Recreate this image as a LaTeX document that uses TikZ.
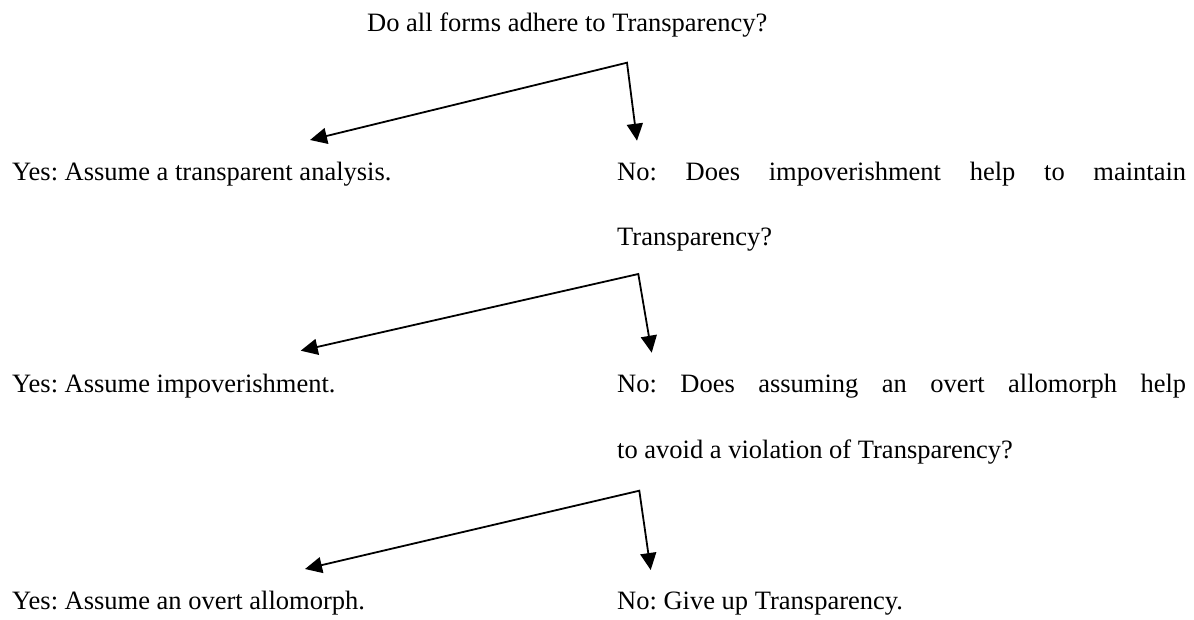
\documentclass[tikz,border=0pt]{standalone}
\usepackage{fontspec}
\setmainfont{Liberation Serif}
\usetikzlibrary{arrows.meta}
\tikzset{
  txt/.style={font=\fontsize{26.5pt}{32pt}\selectfont\frenchspacing, inner sep=0pt, anchor=base west},
  branch/.style={line width=1.8pt, {Triangle[length=17pt,width=16pt]}-{Triangle[length=17pt,width=16pt]}}
}
\begin{document}
\begin{tikzpicture}[x=1pt,y=-1pt]
\useasboundingbox (0,0) rectangle (1194,619);
% texts
\node[txt] (q1) at (367,31) {Do all forms adhere to Transparency?};
\node[txt] (y1) at (12,180) {Yes: Assume a transparent analysis.};
\node[txt] (q2a) at (617,180) {\makebox[569pt][s]{No: Does impoverishment help to maintain}};
\node[txt] (q2b) at (617,245) {Transparency?};
\node[txt] (y2) at (12,392) {Yes: Assume impoverishment.};
\node[txt] (q3a) at (617,392) {\makebox[569pt][s]{No: Does assuming an overt allomorph help}};
\node[txt] (q3b) at (617,458) {to avoid a violation of Transparency?};
\node[txt] (y3) at (12,609) {Yes: Assume an overt allomorph.};
\node[txt] (n3) at (617,609) {No: Give up Transparency.};
% branch points
\coordinate (a1) at (627,62.7);
\coordinate (l1) at (310,140);
\coordinate (r1) at (637,140.7);
\coordinate (a2) at (638.3,274);
\coordinate (l2) at (300.7,350.7);
\coordinate (r2) at (651.7,352.7);
\coordinate (a3) at (639.3,490.7);
\coordinate (l3) at (305,569);
\coordinate (r3) at (650.7,570);
\draw[branch] (l1) -- (a1) -- (r1);
\draw[branch] (l2) -- (a2) -- (r2);
\draw[branch] (l3) -- (a3) -- (r3);
\end{tikzpicture}
\end{document}
